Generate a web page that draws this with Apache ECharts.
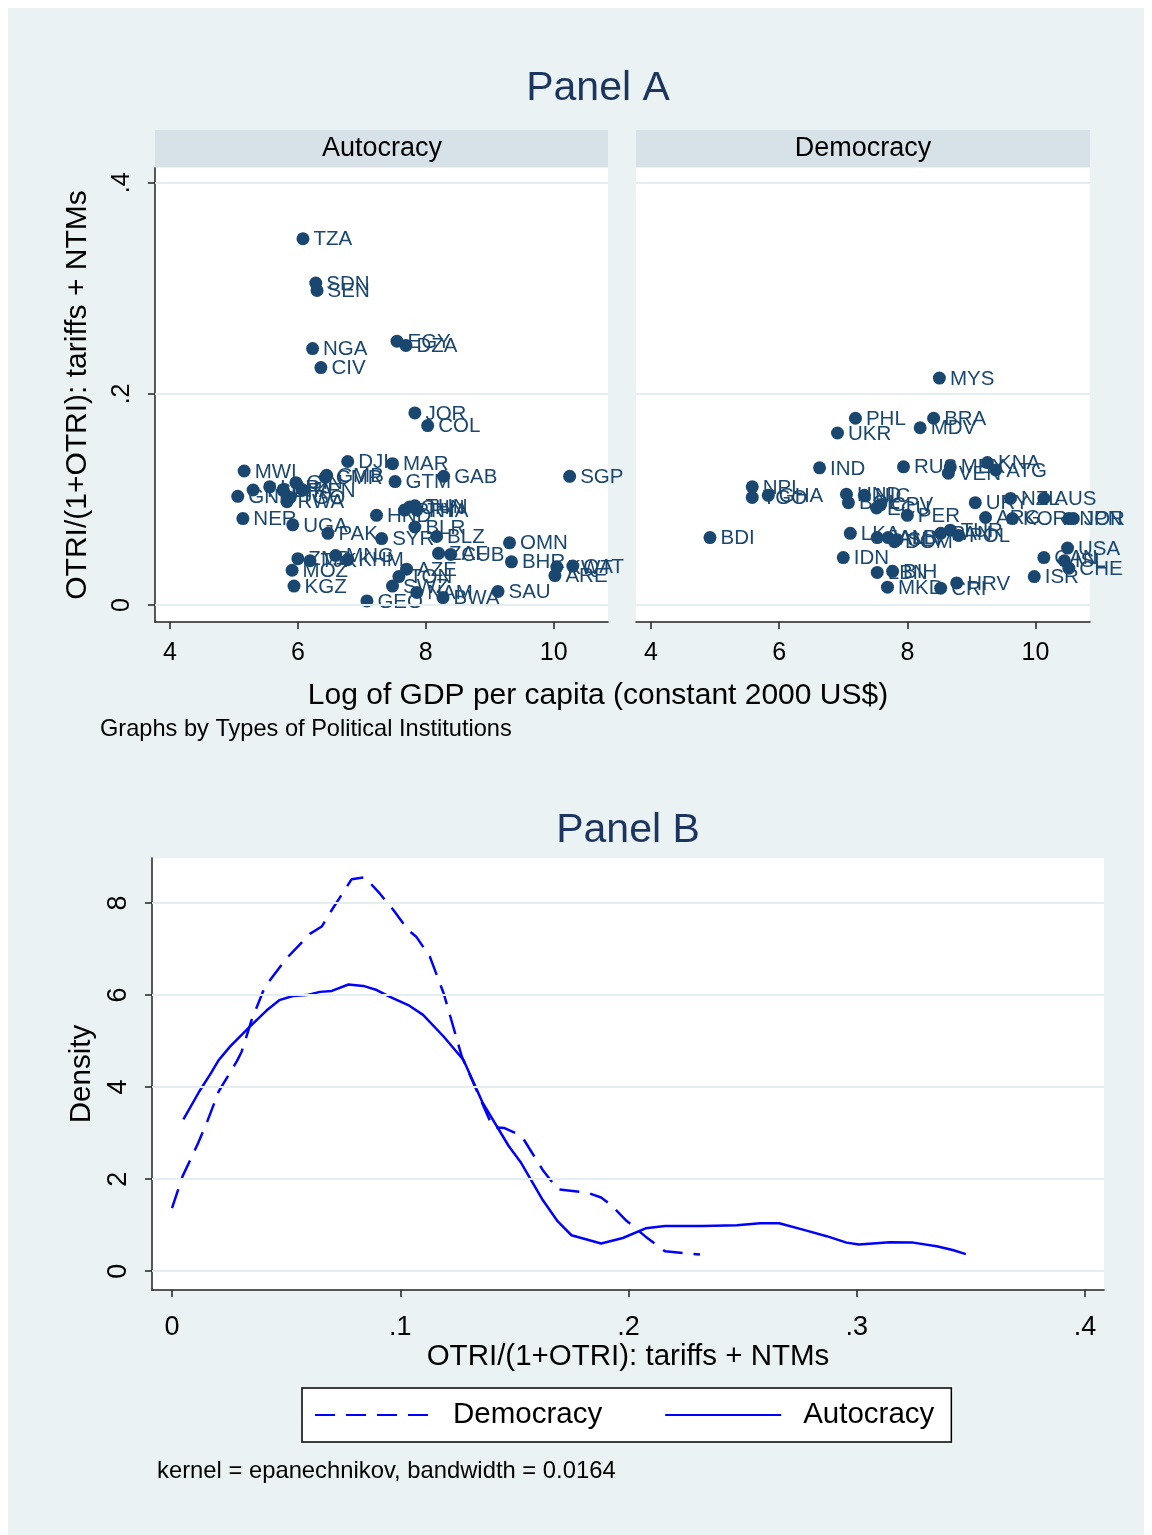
<!DOCTYPE html>
<html><head><meta charset="utf-8">
<script src="https://cdn.jsdelivr.net/npm/echarts@6/dist/echarts.min.js"></script>
<style>html,body{margin:0;padding:0;background:#fff}#c{width:1152px;height:1535px}</style>
</head><body><div id="c"></div>
<script>
// ---------- Panel A data ----------
const autCodes = ['TZA','SDN','SEN','NGA','CIV','EGY','DZA','JOR','COL','DJI','MAR','GMB','CMR','GTM','GAB','SGP','MWI',
  'GNB','TCD','LBR','BFA','TGO','RWA','GIN','KEN','NER','UGA','PAK','SYR','HND','PRY','CHN','TUN','THA','BLR','BLZ','OMN',
  'ZAF','CUB','BHR','KWT','QAT','ARE','AZE','TON','SWZ','NAM','BWA','GEO','SAU','ZMB','TJK','MNG','KHM','MOZ','KGZ'];
const autGDP = [6.08,6.28,6.30,6.23,6.36,7.55,7.69,7.83,8.03,6.78,7.48,6.45,6.43,7.52,8.28,10.25,5.16,
  5.06,5.30,5.56,5.77,5.88,5.83,5.97,6.08,5.14,5.92,6.47,7.31,7.23,7.67,7.75,7.83,7.86,7.83,8.17,9.31,
  8.20,8.39,9.34,10.05,10.30,10.02,7.70,7.58,7.48,7.86,8.27,7.08,9.13,6.00,6.19,6.59,6.78,5.91,5.94];
const autOTRI = [0.347,0.305,0.298,0.243,0.225,0.250,0.246,0.182,0.170,0.136,0.134,0.123,0.121,0.117,0.122,0.122,0.127,
  0.103,0.109,0.112,0.109,0.102,0.098,0.116,0.109,0.082,0.076,0.068,0.063,0.085,0.090,0.093,0.094,0.090,0.074,0.065,0.059,
  0.049,0.048,0.041,0.036,0.037,0.028,0.034,0.027,0.018,0.012,0.007,0.004,0.013,0.044,0.042,0.047,0.043,0.033,0.018];

const demCodes = ['MYS','PHL','BRA','UKR','MDV','IND','RUS','MEX','VEN','KNA','ATG','NPL','TGO','GHA','BDI',
  'HND','BOL','NIC','ECU','CPV','PER','URY','NZL','AUS','ARG','KOR','NOR','JPN','LKA','JAM','ALB','SLV','DOM',
  'PAN','TUR','POL','IDN','LBN','BIH','MKD','CRI','HRV','CAN','USA','ISL','CHE','ISR'];
const demGDP = [8.50,7.19,8.41,6.91,8.20,6.63,7.94,8.67,8.64,9.25,9.38,5.58,5.58,5.83,4.92,
  7.05,7.08,7.33,7.52,7.58,8.00,9.06,9.61,10.13,9.22,9.64,10.52,10.59,7.11,7.53,7.70,7.84,7.80,
  8.52,8.67,8.80,7.00,7.53,7.77,7.69,8.52,8.77,10.13,10.50,10.45,10.52,9.98];
const demOTRI = [0.215,0.177,0.177,0.163,0.168,0.130,0.131,0.131,0.125,0.135,0.128,0.112,0.102,0.104,0.064,
  0.105,0.097,0.104,0.092,0.095,0.085,0.097,0.101,0.101,0.083,0.082,0.082,0.082,0.068,0.064,0.064,0.062,0.060,
  0.068,0.071,0.066,0.045,0.031,0.032,0.017,0.016,0.021,0.045,0.054,0.042,0.035,0.027];

const gdpTicks = [4, 6, 8, 10];
const otriTicks = [0, 0.2, 0.4];

// ---------- Panel B data ----------
const autDensX = [0.005,0.012,0.017,0.0205,0.0254,0.034,0.0415,0.047,0.053,0.059,0.0648,0.070,0.0773,0.0838,0.0897,0.0955,0.104,0.110,0.119,0.1277,
  0.136,0.1475,0.153,0.1625,0.169,0.175,0.188,0.1975,0.2075,0.216,0.2325,0.2475,0.2576,0.266,0.278,0.2868,0.2955,0.301,0.3145,0.3247,0.335,0.342,0.3478];
const autDensY = [3.30,3.91,4.30,4.59,4.88,5.31,5.67,5.89,5.98,6.00,6.07,6.09,6.23,6.20,6.11,5.96,5.77,5.57,5.10,4.59,
  3.67,2.72,2.35,1.54,1.08,0.78,0.60,0.72,0.93,0.98,0.98,1.00,1.04,1.04,0.88,0.76,0.62,0.58,0.63,0.62,0.54,0.46,0.37];
const demDensX = [0.000,0.0047,0.0088,0.0114,0.0155,0.0205,0.0285,0.0305,0.0349,0.0407,0.0502,0.0604,0.0656,0.070,0.0787,0.0845,0.091,0.097,0.1035,0.107,0.113,0.119,0.127,
  0.1405,0.1457,0.1506,0.154,0.1624,0.169,0.1824,0.188,0.1925,0.199,0.2075,0.216,0.2313];
const demDensY = [1.37,2.07,2.50,2.78,3.26,3.91,4.57,4.77,5.46,6.18,6.80,7.33,7.49,7.85,8.52,8.56,8.21,7.85,7.41,7.27,6.83,6.04,4.66,
  3.13,3.11,3.00,2.87,2.20,1.78,1.70,1.60,1.43,1.10,0.75,0.43,0.36];
const otriDensTicks = [0, 0.1, 0.2, 0.3, 0.4];
const densTicks = [0, 2, 4, 6, 8];

// ---------- build ----------
const FONT = "'Liberation Sans', Arial, sans-serif";
const NAVY = '#1a476f';
const GRIDC = '#e4edf0';
const stataNum = v => v === 0 ? '0' : String(+v.toFixed(4)).replace(/^0\./, '.');

const chart = echarts.init(document.getElementById('c'), null, {renderer: 'canvas'});

function scatterSeries(codes, xs, ys, idx) {
  return {
    type: 'scatter', xAxisIndex: idx, yAxisIndex: idx, z: 3,
    data: codes.map((c, i) => [xs[i], ys[i], c]),
    symbolSize: 13,
    itemStyle: {color: NAVY, opacity: 1},
    label: {show: true, position: 'right', distance: 4, offset: [0, 1], formatter: p => p.data[2],
      color: NAVY, fontSize: 20.5, fontFamily: FONT},
    emphasis: {disabled: true}
  };
}
function gridLines(idx, vals) {
  return {
    type: 'line', xAxisIndex: idx, yAxisIndex: idx, data: [], z: 1, silent: true,
    markLine: {silent: true, symbol: 'none', label: {show: false},
      lineStyle: {color: GRIDC, width: 2, type: 'solid'}, animation: false,
      data: vals.map(v => ({yAxis: v}))}
  };
}
const axisLineStyle = {show: true, onZero: false, lineStyle: {color: '#222', width: 1.5}};
const tickStyle = (vals) => ({show: true, customValues: vals, length: 7, inside: false, lineStyle: {color: '#222', width: 1.5}});

function gdpX(gi) {
  return {gridIndex: gi, type: 'value', min: 3.766, max: 10.85,
    axisLine: axisLineStyle, axisTick: tickStyle(gdpTicks),
    axisLabel: {customValues: gdpTicks, fontSize: 25, color: '#000', fontFamily: FONT, margin: 19},
    splitLine: {show: false}};
}

const option = {
  backgroundColor: '#eaf2f3',
  animation: false,
  textStyle: {fontFamily: FONT},
  grid: [
    {left: 155, top: 168, width: 453, height: 454, show: true, backgroundColor: '#fff', borderWidth: 0},
    {left: 636, top: 168, width: 454, height: 454, show: true, backgroundColor: '#fff', borderWidth: 0},
    {left: 152, top: 858, width: 952, height: 432, show: true, backgroundColor: '#fff', borderWidth: 0}
  ],
  xAxis: [
    gdpX(0), gdpX(1),
    {gridIndex: 2, type: 'value', min: -0.00876, max: 0.4083,
      axisLine: axisLineStyle, axisTick: tickStyle(otriDensTicks),
      axisLabel: {customValues: otriDensTicks, formatter: stataNum, fontSize: 27, color: '#000', fontFamily: FONT, margin: 24},
      splitLine: {show: false},
      name: 'OTRI/(1+OTRI): tariffs + NTMs', nameLocation: 'middle', nameGap: 51,
      nameTextStyle: {fontSize: 29.5, color: '#000', fontFamily: FONT}}
  ],
  yAxis: [
    {gridIndex: 0, type: 'value', min: -0.016, max: 0.414,
      axisLine: axisLineStyle, axisTick: tickStyle(otriTicks),
      axisLabel: {customValues: otriTicks, formatter: stataNum, rotate: 90, fontSize: 25, color: '#000', fontFamily: FONT, margin: 20},
      splitLine: {show: false},
      name: 'OTRI/(1+OTRI): tariffs + NTMs', nameLocation: 'middle', nameRotate: 90, nameGap: 62,
      nameTextStyle: {fontSize: 30, color: '#000', fontFamily: FONT}},
    {gridIndex: 1, type: 'value', min: -0.016, max: 0.414, show: false, splitLine: {show: false}},
    {gridIndex: 2, type: 'value', min: -0.41, max: 8.98,
      axisLine: axisLineStyle, axisTick: tickStyle(densTicks),
      axisLabel: {customValues: densTicks, rotate: 90, fontSize: 27, color: '#000', fontFamily: FONT, margin: 20},
      splitLine: {show: false},
      name: 'Density', nameLocation: 'middle', nameRotate: 90, nameGap: 52,
      nameTextStyle: {fontSize: 29.5, color: '#000', fontFamily: FONT}}
  ],
  legend: {
    data: ['Democracy', 'Autocracy'], left: 302, top: 1388, orient: 'horizontal',
    backgroundColor: '#fff', borderColor: '#000', borderWidth: 1.5, borderRadius: 0,
    padding: [12, 17, 12, 12], itemGap: 62, itemWidth: 116, itemHeight: 20,
    itemStyle: {opacity: 0},
    textStyle: {fontSize: 29.5, color: '#000', fontFamily: FONT, padding: [0, 0, 0, 17]},
    selectedMode: false
  },
  series: [
    gridLines(0, otriTicks), gridLines(1, otriTicks), gridLines(2, densTicks),
    scatterSeries(autCodes, autGDP, autOTRI, 0),
    scatterSeries(demCodes, demGDP, demOTRI, 1),
    {name: 'Democracy', type: 'line', xAxisIndex: 2, yAxisIndex: 2, z: 3, symbol: 'none', showSymbol: false,
      data: demDensX.map((x, i) => [x, demDensY[i]]),
      lineStyle: {color: '#0000ff', width: 2.5, type: [20, 11]}, itemStyle: {color: '#0000ff'}},
    {name: 'Autocracy', type: 'line', xAxisIndex: 2, yAxisIndex: 2, z: 3, symbol: 'none', showSymbol: false,
      data: autDensX.map((x, i) => [x, autDensY[i]]),
      lineStyle: {color: '#0000ff', width: 2.5, type: 'solid'}, itemStyle: {color: '#0000ff'}}
  ],
  graphic: [
    {type: 'rect', shape: {x: 0, y: 0, width: 1152, height: 8}, style: {fill: '#fff'}, silent: true},
    {type: 'rect', shape: {x: 0, y: 0, width: 8, height: 1535}, style: {fill: '#fff'}, silent: true},
    {type: 'rect', shape: {x: 1144, y: 0, width: 8, height: 1535}, style: {fill: '#fff'}, silent: true},
    {type: 'text', x: 598, y: 89, style: {text: 'Panel A', fill: '#1c355e', font: "41px 'Liberation Sans', Arial", textAlign: 'center', textVerticalAlign: 'middle'}},
    {type: 'text', x: 628, y: 831, style: {text: 'Panel B', fill: '#1c355e', font: "41px 'Liberation Sans', Arial", textAlign: 'center', textVerticalAlign: 'middle'}},
    {type: 'rect', shape: {x: 155, y: 130, width: 453, height: 37}, style: {fill: '#d6e2e7'}, silent: true},
    {type: 'rect', shape: {x: 636, y: 130, width: 454, height: 37}, style: {fill: '#d6e2e7'}, silent: true},
    {type: 'text', x: 382, y: 149, style: {text: 'Autocracy', fill: '#000', font: "27px 'Liberation Sans', Arial", textAlign: 'center', textVerticalAlign: 'middle'}},
    {type: 'text', x: 863, y: 149, style: {text: 'Democracy', fill: '#000', font: "27px 'Liberation Sans', Arial", textAlign: 'center', textVerticalAlign: 'middle'}},
    {type: 'text', x: 598, y: 696, style: {text: 'Log of GDP per capita (constant 2000 US$)', fill: '#000', font: "30px 'Liberation Sans', Arial", textAlign: 'center', textVerticalAlign: 'middle'}},
    {type: 'text', x: 100, y: 729, style: {text: 'Graphs by Types of Political Institutions', fill: '#000', font: "23.6px 'Liberation Sans', Arial", textAlign: 'left', textVerticalAlign: 'middle'}},
    {type: 'text', x: 157, y: 1471, style: {text: 'kernel = epanechnikov, bandwidth = 0.0164', fill: '#000', font: "23.8px 'Liberation Sans', Arial", textAlign: 'left', textVerticalAlign: 'middle'}}
  ]
};
chart.setOption(option);
</script>
</body></html>
